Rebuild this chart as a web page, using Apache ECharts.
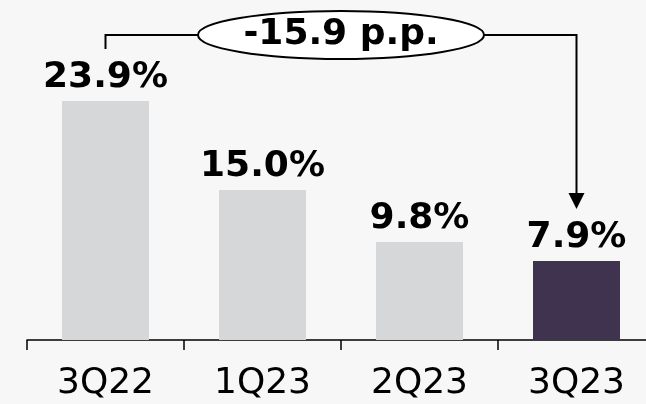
<!DOCTYPE html>
<html>
<head>
<meta charset="utf-8">
<script src="https://cdn.jsdelivr.net/npm/echarts@6/dist/echarts.min.js"></script>
<style>
  html, body { margin: 0; padding: 0; background: #f7f7f7; }
  #chart { width: 646px; height: 404px; }
</style>
</head>
<body>
<div id="chart"></div>
<script>
// Quarterly ratio, in percent
const quarters = ['3Q22', '1Q23', '2Q23', '3Q23'];
const ratios = [23.9, 15.0, 9.8, 7.9];
const changeLabel = '-15.9 p.p.';

const GREY = '#d6d7d9';
const HIGHLIGHT = '#40334f';
const FONT = '"DejaVu Sans", Verdana, sans-serif';

const chart = echarts.init(document.getElementById('chart'));

const option = {
  backgroundColor: '#f7f7f7',
  animation: false,
  grid: { left: 27, width: 628, top: 40, bottom: 64, containLabel: false, outerBoundsMode: 'none' },
  xAxis: {
    type: 'category',
    data: quarters,
    boundaryGap: true,
    axisLine: { lineStyle: { color: '#000', width: 1.5 } },
    axisTick: { show: true, alignWithLabel: false, interval: 0, length: 10, lineStyle: { color: '#000', width: 1.5 } },
    axisLabel: { color: '#000', fontFamily: FONT, fontSize: 36, margin: 26 }
  },
  yAxis: { type: 'value', min: 0, max: 30, show: false, splitLine: { show: false } },
  series: [{
    type: 'bar',
    barWidth: 87,
    data: ratios.map((v, i) => ({
      value: v,
      itemStyle: { color: i === ratios.length - 1 ? HIGHLIGHT : GREY }
    })),
    label: {
      show: true,
      position: 'top',
      distance: 5,
      color: '#000',
      fontFamily: FONT,
      fontWeight: 'bold',
      fontSize: 36,
      formatter: p => p.value.toFixed(1) + '%'
    }
  }]
};
chart.setOption(option);

// Change bracket from the first bar to the last one
function drawBracket() {
  const first = 0, last = ratios.length - 1;
  const p0 = chart.convertToPixel({ seriesIndex: 0 }, [first, ratios[first]]);
  const p1 = chart.convertToPixel({ seriesIndex: 0 }, [last, ratios[last]]);
  const topY = 35;
  const gap = 52;
  const head = 16;
  const cx = (p0[0] + p1[0]) / 2;
  const rx = 143, ry = 24;
  const stroke = { stroke: '#000', lineWidth: 2 };
  chart.setOption({
    graphic: [
      { type: 'polyline', shape: { points: [[p0[0], p0[1] - gap], [p0[0], topY], [cx - rx, topY]] }, style: Object.assign({ fill: null }, stroke) },
      { type: 'polyline', shape: { points: [[cx + rx, topY], [p1[0], topY], [p1[0], p1[1] - gap - head]] }, style: Object.assign({ fill: null }, stroke) },
      { type: 'polygon', shape: { points: [[p1[0] - 8, p1[1] - gap - head], [p1[0] + 8, p1[1] - gap - head], [p1[0], p1[1] - gap]] }, style: { fill: '#000' } },
      { type: 'ellipse', shape: { cx: cx, cy: topY, rx: rx, ry: ry }, style: { fill: '#fff', stroke: '#000', lineWidth: 2 } },
      { type: 'text', x: cx, y: topY, style: { text: changeLabel, fill: '#000', font: 'bold 36px ' + FONT, align: 'center', verticalAlign: 'middle' } }
    ]
  });
}
drawBracket();
</script>
</body>
</html>
